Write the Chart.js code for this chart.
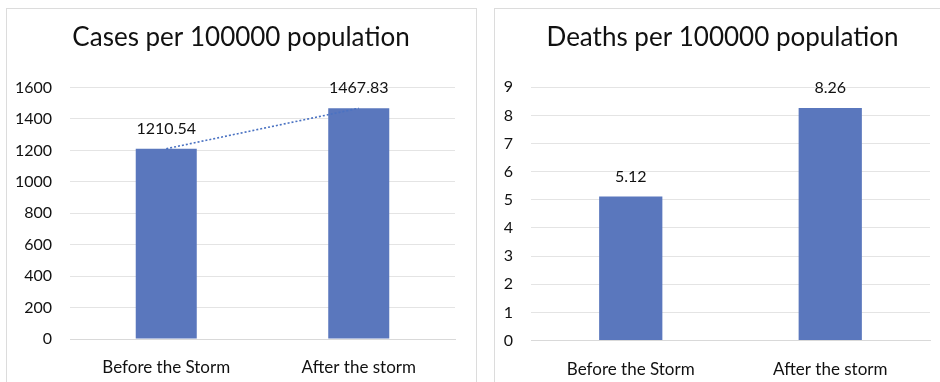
<!DOCTYPE html>
<html>
<head>
<meta charset="utf-8">
<script src="https://cdn.jsdelivr.net/npm/chart.js@4/dist/chart.umd.min.js"></script>
<style>
  html, body { margin: 0; padding: 0; background: #ffffff; overflow: hidden; }
  body { width: 940px; height: 382px; position: relative; }
  .panel { position: absolute; border: 1px solid #dcdcdc; background: #fff; box-sizing: border-box; }
  canvas { position: absolute; }
</style>
</head>
<body>
<div class="panel" style="left:6px; top:8px; width:471px; height:400px;"></div>
<div class="panel" style="left:494px; top:8px; width:480px; height:400px;"></div>
<canvas id="cases" width="468" height="373" style="left:7px; top:9px;"></canvas>
<canvas id="deaths" width="455" height="373" style="left:495px; top:9px;"></canvas>
<script>
// ---- data ----
const categories = ["Before the Storm", "After the storm"];
const casesValues = [1210.54, 1467.83];
const deathsValues = [5.12, 8.26];
const casesTitle = "Cases per 100000 population";
const deathsTitle = "Deaths per 100000 population";
const casesTicks = { min: 0, max: 1600, step: 200 };
const deathsTicks = { min: 0, max: 9, step: 1 };

// ---- style ----
const FONT = "Lato, 'Open Sans', 'Liberation Sans', sans-serif";
const TEXT = "#111111";
const BAR = "#5a77bd";
const GRID = "#e4e4e4";

const valueLabels = {
  id: 'valueLabels',
  afterDatasetsDraw(chart) {
    const ctx = chart.ctx;
    chart.data.datasets.forEach((ds, i) => {
      if (ds.type === 'line') return;
      const meta = chart.getDatasetMeta(i);
      meta.data.forEach((el, j) => {
        ctx.save();
        ctx.font = "16px " + FONT;
        ctx.fillStyle = TEXT;
        ctx.textAlign = 'center';
        ctx.textBaseline = 'middle';
        ctx.fillText(ds.data[j].toFixed(2), el.x, el.y - 20);
        ctx.restore();
      });
    });
  }
};

function makeChart(id, title, values, ticks, opts) {
  const datasets = [];
  if (opts.trend) {
    datasets.push({
      type: 'line',
      data: values,
      borderColor: '#4a72c2',
      borderWidth: 1.6,
      borderDash: [2, 2],
      pointRadius: 0,
      fill: false,
      order: 0
    });
  }
  datasets.push({
    type: 'bar',
    data: values,
    backgroundColor: BAR,
    borderWidth: 0,
    categoryPercentage: 1.0,
    barPercentage: 0.317,
    order: 1
  });
  return new Chart(document.getElementById(id), {
    type: 'bar',
    data: { labels: categories, datasets },
    options: {
      responsive: false,
      animation: false,
      devicePixelRatio: 1,
      layout: { padding: 0 },
      plugins: {
        legend: { display: false },
        tooltip: { enabled: false },
        title: {
          display: true,
          text: title,
          color: TEXT,
          font: { family: FONT, size: 26, weight: 'normal' },
          padding: { top: 13.4, bottom: opts.titleBottom }
        }
      },
      scales: {
        x: {
          grid: { display: false },
          border: { display: true, color: '#d9d9d9', width: 1 },
          ticks: { color: TEXT, font: { family: FONT, size: 17 }, padding: opts.xPad, maxRotation: 0 },
          afterFit(s) { s.height = opts.xHeight; }
        },
        y: {
          min: ticks.min, max: ticks.max,
          grid: { color: GRID, drawTicks: false, lineWidth: 1 },
          border: { display: false },
          ticks: {
            stepSize: ticks.step, color: TEXT, font: { family: FONT, size: 16 }, padding: 18,
            callback: (v) => String(v)
          },
          afterFit(s) { s.width = opts.yWidth; }
        },
        spacer: {
          type: 'linear',
          position: 'right',
          display: true,
          grid: { display: false, drawTicks: false },
          border: { display: false },
          ticks: { display: false },
          afterFit(s) { s.width = opts.right; }
        }
      }
    },
    plugins: [valueLabels]
  });
}

makeChart('cases', casesTitle, casesValues, casesTicks,
  { trend: true, right: 20, titleBottom: 33.9, xHeight: 43, xPad: 10.5, yWidth: 63 });
makeChart('deaths', deathsTitle, deathsValues, deathsTicks,
  { trend: false, right: 20, titleBottom: 33.7, xHeight: 41.5, xPad: 10.5, yWidth: 36 });
</script>
</body>
</html>
